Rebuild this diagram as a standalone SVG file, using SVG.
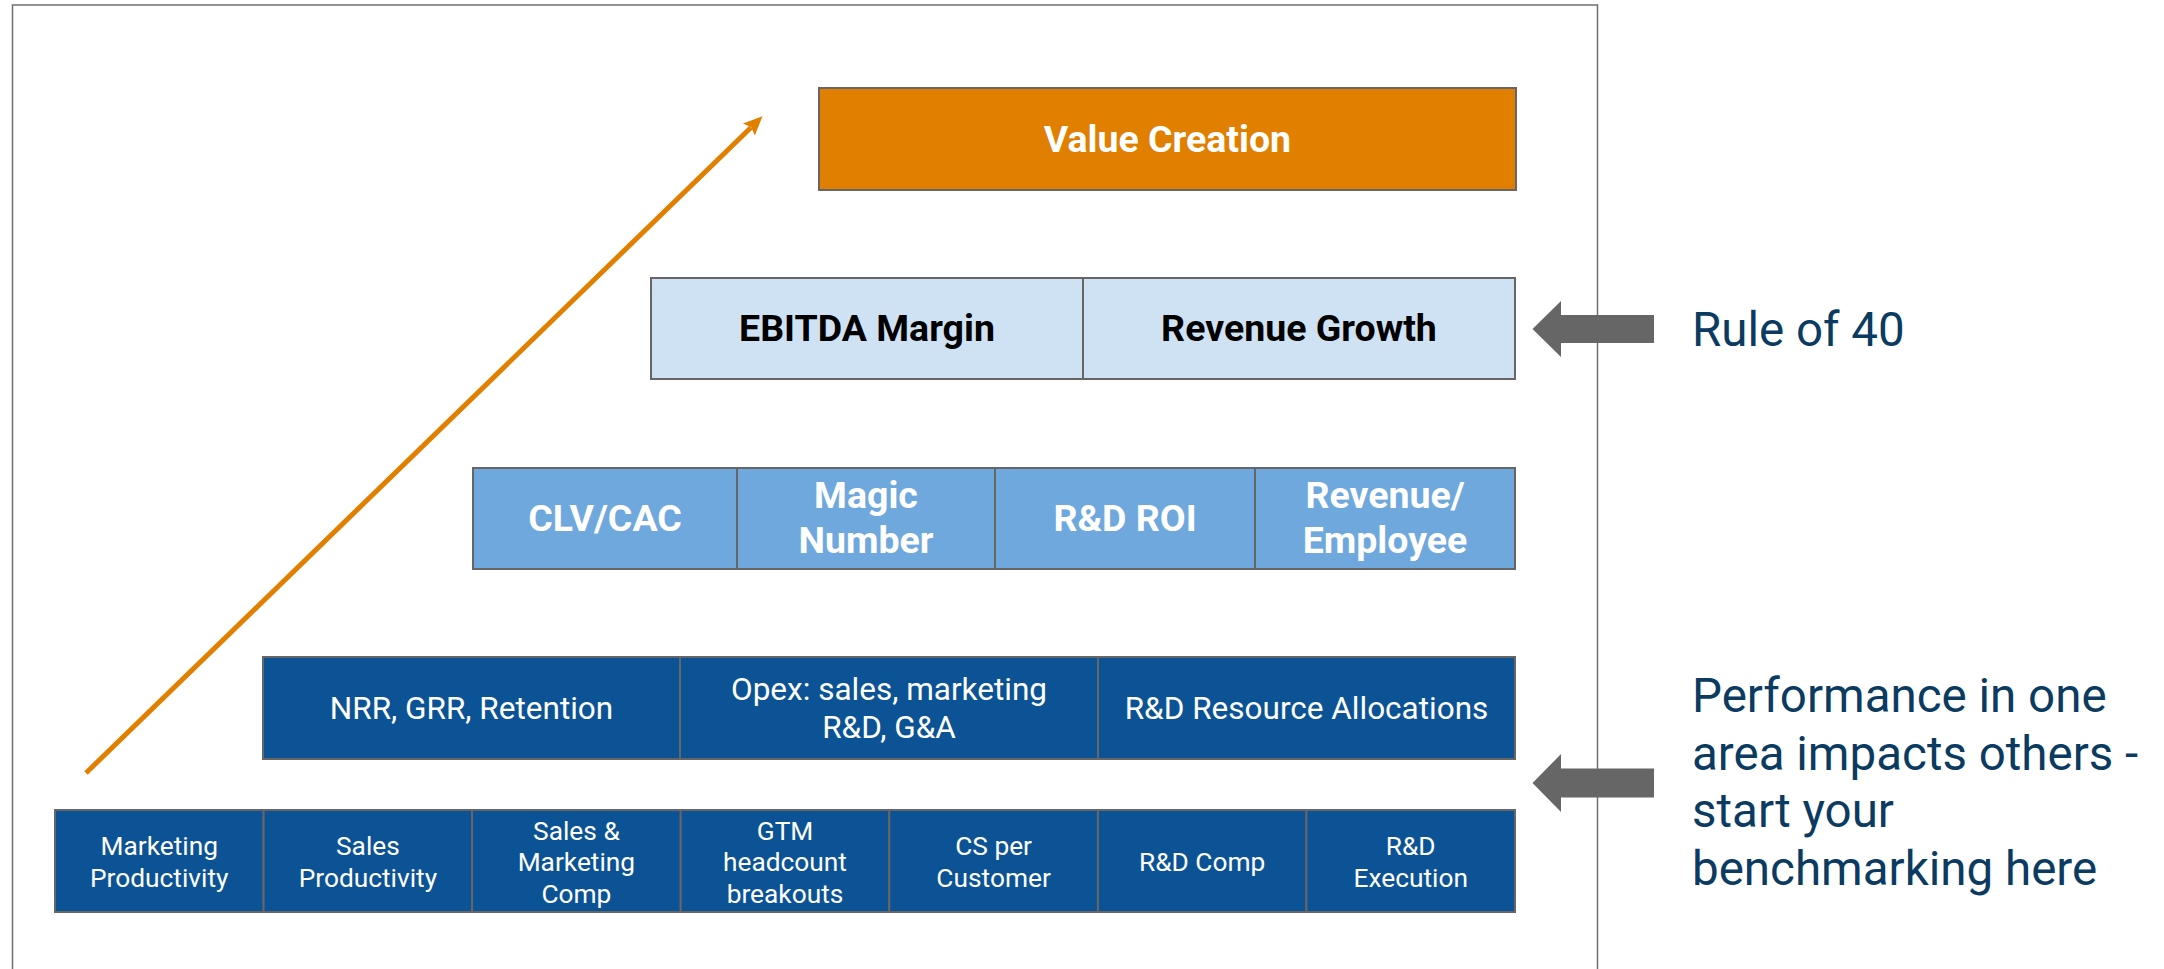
<svg xmlns="http://www.w3.org/2000/svg" width="2164" height="969" viewBox="0 0 2164 969">
  <style>
    .cell{stroke:#666;stroke-width:2}
    .orange{fill:#e07f00}
    .pale{fill:#cfe2f3}
    .mid{fill:#6fa8dc}
    .deep{fill:#0b5394}
    text{font-family:Roboto,"Liberation Sans",Arial,sans-serif;text-anchor:middle}
    .hd{font-size:37.5px;font-weight:700;fill:#fff}
    .hdk{font-size:37.5px;font-weight:700;fill:#000}
    .r3{font-size:31.5px;fill:#fff}
    .r4{font-size:26.3px;fill:#fff}
    .note{font-size:47.5px;fill:#0b3b60;text-anchor:start}
    .frame{fill:none;stroke:#6f6f6f;stroke-width:1.5}
  </style>
  <defs>
    <marker id="orangeHead" markerUnits="userSpaceOnUse" markerWidth="20" markerHeight="20" viewBox="0 0 20 20" refX="3" refY="10" orient="auto">
      <path d="M0,1.5 L19,10 L0,18.5 L3.5,10 Z" fill="#e07f00"/>
    </marker>
  </defs>

  <rect width="2164" height="969" fill="#fff"/>
  <path class="frame" d="M12.5,969 V5 H1597.5 V969"/>

  <!-- top tier -->
  <g id="value-creation">
    <rect class="cell orange" x="819" y="88" width="697" height="102"/>
    <text class="hd" x="1167.5" y="152">Value Creation</text>
  </g>

  <!-- Rule of 40 tier -->
  <g id="ebitda-margin">
    <rect class="cell pale" x="651" y="278" width="432" height="101"/>
    <text class="hdk" x="867" y="341">EBITDA Margin</text>
  </g>
  <g id="revenue-growth">
    <rect class="cell pale" x="1083" y="278" width="432" height="101"/>
    <text class="hdk" x="1299" y="341">Revenue Growth</text>
  </g>

  <!-- efficiency metrics tier -->
  <g id="clv-cac">
    <rect class="cell mid" x="473" y="468" width="264" height="101"/>
    <text class="hd" x="605" y="531">CLV/CAC</text>
  </g>
  <g id="magic-number">
    <rect class="cell mid" x="737" y="468" width="258" height="101"/>
    <text class="hd" x="866" y="508">Magic</text>
    <text class="hd" x="866" y="553">Number</text>
  </g>
  <g id="rd-roi">
    <rect class="cell mid" x="995" y="468" width="260" height="101"/>
    <text class="hd" x="1125" y="531">R&amp;D ROI</text>
  </g>
  <g id="revenue-employee">
    <rect class="cell mid" x="1255" y="468" width="260" height="101"/>
    <text class="hd" x="1385" y="508">Revenue/</text>
    <text class="hd" x="1385" y="553">Employee</text>
  </g>

  <!-- operating drivers tier -->
  <g id="retention">
    <rect class="cell deep" x="263" y="657" width="417" height="102"/>
    <text class="r3" x="471.5" y="719">NRR, GRR, Retention</text>
  </g>
  <g id="opex">
    <rect class="cell deep" x="680" y="657" width="418" height="102"/>
    <text class="r3" x="889" y="700">Opex: sales, marketing</text>
    <text class="r3" x="889" y="738">R&amp;D, G&amp;A</text>
  </g>
  <g id="rd-allocations">
    <rect class="cell deep" x="1098" y="657" width="417" height="102"/>
    <text class="r3" x="1306.5" y="719">R&amp;D Resource Allocations</text>
  </g>

  <!-- base benchmarks tier -->
  <g id="marketing-productivity">
    <rect class="cell deep" x="55" y="810" width="208.6" height="102"/>
    <text class="r4" x="159.3" y="855">Marketing</text>
    <text class="r4" x="159.3" y="886.6">Productivity</text>
  </g>
  <g id="sales-productivity">
    <rect class="cell deep" x="263.6" y="810" width="208.5" height="102"/>
    <text class="r4" x="367.9" y="855">Sales</text>
    <text class="r4" x="367.9" y="886.6">Productivity</text>
  </g>
  <g id="sm-comp">
    <rect class="cell deep" x="472.1" y="810" width="208.6" height="102"/>
    <text class="r4" x="576.4" y="839.5">Sales &amp;</text>
    <text class="r4" x="576.4" y="871">Marketing</text>
    <text class="r4" x="576.4" y="902.5">Comp</text>
  </g>
  <g id="gtm-headcount">
    <rect class="cell deep" x="680.7" y="810" width="208.6" height="102"/>
    <text class="r4" x="785" y="839.5">GTM</text>
    <text class="r4" x="785" y="871">headcount</text>
    <text class="r4" x="785" y="902.5">breakouts</text>
  </g>
  <g id="cs-per-customer">
    <rect class="cell deep" x="889.3" y="810" width="208.6" height="102"/>
    <text class="r4" x="993.6" y="855">CS per</text>
    <text class="r4" x="993.6" y="886.6">Customer</text>
  </g>
  <g id="rd-comp">
    <rect class="cell deep" x="1097.9" y="810" width="208.5" height="102"/>
    <text class="r4" x="1202.1" y="871">R&amp;D Comp</text>
  </g>
  <g id="rd-execution">
    <rect class="cell deep" x="1306.4" y="810" width="208.6" height="102"/>
    <text class="r4" x="1410.7" y="855">R&amp;D</text>
    <text class="r4" x="1410.7" y="886.6">Execution</text>
  </g>

  <!-- connectors -->
  <g id="connectors">
    <line x1="86" y1="773" x2="751" y2="127.5" stroke="#e07f00" stroke-width="5" marker-end="url(#orangeHead)"/>
    <polygon points="1532.5,329 1561,301 1561,315 1654,315 1654,343 1561,343 1561,357" fill="#666"/>
    <polygon points="1532.5,783 1561,754 1561,768.5 1654,768.5 1654,797.5 1561,797.5 1561,812" fill="#666"/>
  </g>

  <!-- callouts -->
  <g id="rule-of-40">
    <text class="note" x="1692" y="346">Rule of 40</text>
  </g>
  <g id="start-here">
    <text class="note" x="1692" y="712">Performance in one</text>
    <text class="note" x="1692" y="769.5">area impacts others -</text>
    <text class="note" x="1692" y="827">start your</text>
    <text class="note" x="1692" y="884.5">benchmarking here</text>
  </g>
</svg>
